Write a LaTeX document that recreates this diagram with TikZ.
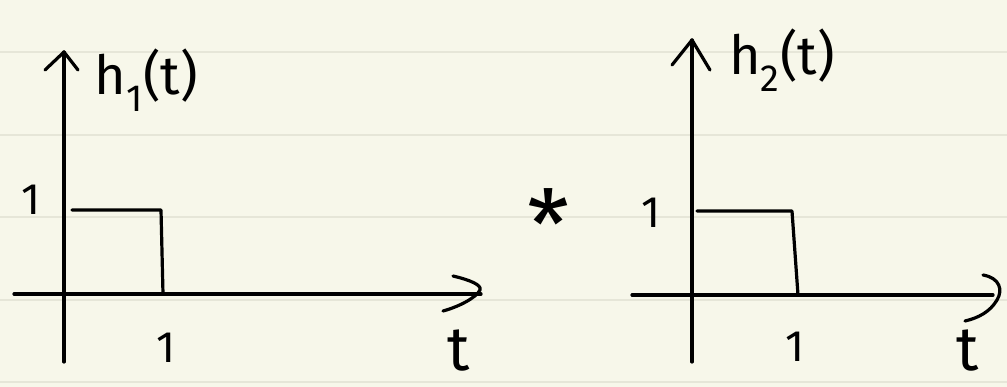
\documentclass[tikz,border=0pt]{standalone}
\usepackage{fontspec}
\setmainfont{Fira Sans}
\definecolor{bgcol}{HTML}{F7F7EA}
\definecolor{rulecol}{HTML}{E6E6D8}
\begin{document}
\begin{tikzpicture}[x=1pt,y=-1pt,
  pen/.style={line width=3.2pt, line cap=round, line join=round, draw=black},
  rule/.style={line width=2.5pt, draw=rulecol},
  lbl/.style={inner sep=0pt, font=\fontsize{44}{44}\selectfont},
  fname/.style={inner sep=0pt, font=\fontsize{54}{54}\selectfont},
  tname/.style={inner sep=0pt, font=\fontsize{62}{62}\selectfont}]
\fill[bgcol] (0,0) rectangle (1007,387);
\useasboundingbox (0,0) rectangle (1007,387);
% ruled paper
\foreach \yy in {52,135,217,300,382}{\draw[rule] (0,\yy) -- (1007,\yy);}
% ---------- left graph ----------
\coordinate (ly0) at (64,362);
\coordinate (ly1) at (64,52);
\coordinate (lx0) at (14,294);
\coordinate (lx1) at (481,294);
\draw[pen] (ly0) -- (ly1);
\draw[pen] (45,70) -- (ly1) -- (78,70);
\draw[pen] (lx0) -- (lx1);
\draw[pen] (453,276) .. controls (470,280) and (482,285) .. (480,290) .. controls (476,298) and (458,307) .. (443,311);
\coordinate (la) at (72,210);
\coordinate (lb) at (161,210);
\coordinate (lc) at (163,294);
\draw[pen] (la) -- (lb) -- (lc);
\node[lbl] (l1y) at (31,200) {1};
\node[lbl] (l1x) at (166,348) {1};
\node[tname] (lt) at (459,351) {t};
\node[fname] (lh) at (146,80) {h\textsubscript{1}(t)};
% ---------- convolution ----------
\node[inner sep=0pt, anchor=north, font=\fontsize{96}{96}\selectfont] (conv) at (549,188) {*};
% ---------- right graph ----------
\coordinate (ry0) at (692,362);
\coordinate (ry1) at (692,40);
\coordinate (rx0) at (632,295);
\coordinate (rx1) at (993,295);
\draw[pen] (ry0) -- (ry1);
\draw[pen] (672,65) -- (ry1) -- (710,70);
\draw[pen] (rx0) -- (rx1);
\draw[pen] (983,275) .. controls (1000,278) and (1003,290) .. (997,300) .. controls (990,312) and (978,318) .. (965,321);
\coordinate (ra) at (697,211);
\coordinate (rb) at (792,211);
\coordinate (rc) at (798,295);
\draw[pen] (ra) -- (rb) -- (rc);
\node[lbl] (r1y) at (651,213) {1};
\node[lbl] (r1x) at (795,347) {1};
\node[tname] (rt) at (968,351) {t};
\node[fname] (rh) at (782,60) {h\textsubscript{2}(t)};
\end{tikzpicture}
\end{document}
